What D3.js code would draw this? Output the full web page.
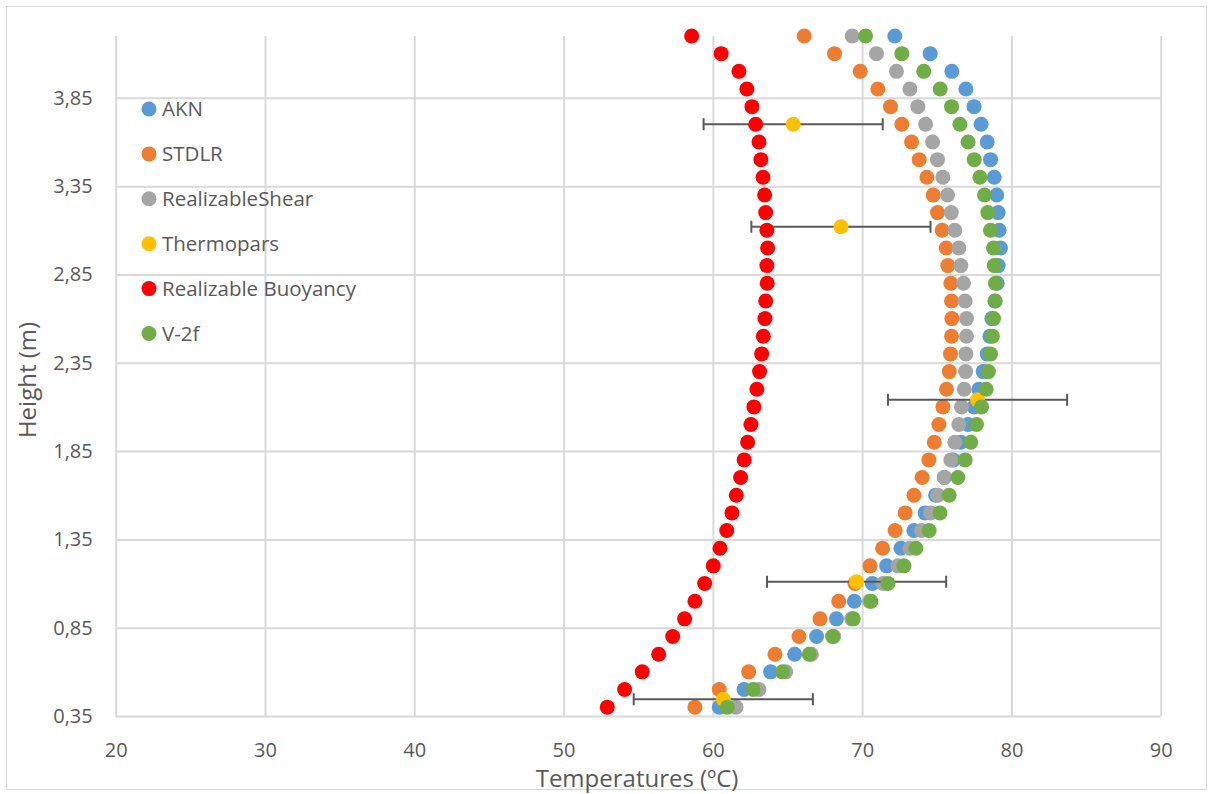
<!DOCTYPE html>
<html>
<head>
<meta charset="utf-8">
<script src="https://cdn.jsdelivr.net/npm/d3@7"></script>
<style>
  body { margin: 0; background: #fff; }
  text { font-family: "Open Sans", Lato, sans-serif; fill: #595959; }
</style>
</head>
<body>
<div class="canvas"></div>
<script>
const heights = [0.4, 0.5, 0.6, 0.7, 0.8, 0.9, 1.0, 1.1, 1.2, 1.3, 1.4, 1.5, 1.6, 1.7, 1.8, 1.9, 2.0, 2.1, 2.2, 2.3,
    2.4, 2.5, 2.6, 2.7, 2.8, 2.9, 3.0, 3.1, 3.2, 3.3, 3.4, 3.5, 3.6, 3.7, 3.8, 3.9, 4.0, 4.1, 4.2];

const akn = [60.43, 62.09, 63.87, 65.48, 66.95, 68.28, 69.48, 70.68, 71.64, 72.6, 73.47, 74.22, 74.92, 75.5, 76.1, 76.61,
    77.1, 77.5, 77.82, 78.11, 78.38, 78.56, 78.69, 78.9, 79.05, 79.11, 79.27, 79.18, 79.11, 79.02, 78.85, 78.6, 78.38,
    77.97, 77.5, 76.95, 76.01, 74.56, 72.19];

const stdlr = [58.8, 60.43, 62.4, 64.16, 65.77, 67.18, 68.43, 69.52, 70.53, 71.37, 72.21, 72.88, 73.47, 74.02, 74.47,
    74.83, 75.14, 75.41, 75.65, 75.84, 75.92, 75.99, 76.01, 75.99, 75.94, 75.74, 75.63, 75.36, 75.05, 74.76, 74.34,
    73.82, 73.31, 72.66, 71.9, 71.05, 69.87, 68.15, 66.12];

const realizableShear = [61.55, 63.09, 64.88, 66.6, 68.1, 69.3, 70.5, 71.4, 72.4, 73.2, 73.98, 74.58, 75.07, 75.52,
    75.94, 76.21, 76.48, 76.66, 76.84, 76.93, 76.95, 76.99, 76.99, 76.9, 76.79, 76.61, 76.48, 76.21, 75.97, 75.72, 75.41,
    75.05, 74.72, 74.25, 73.73, 73.2, 72.3, 70.96, 69.33];

const realizableBuoyancy = [52.93, 54.09, 55.27, 56.37, 57.31, 58.11, 58.8, 59.45, 60.03, 60.48, 60.93, 61.28, 61.57,
    61.86, 62.1, 62.33, 62.55, 62.75, 62.95, 63.13, 63.27, 63.38, 63.49, 63.54, 63.64, 63.62, 63.67, 63.62, 63.54, 63.47,
    63.36, 63.22, 63.09, 62.87, 62.62, 62.28, 61.75, 60.56, 58.58];

const v2f = [60.97, 62.71, 64.67, 66.46, 68.02, 69.41, 70.59, 71.73, 72.8, 73.6, 74.49, 75.21, 75.83, 76.41, 76.9, 77.28,
    77.66, 78.0, 78.31, 78.46, 78.6, 78.73, 78.8, 78.91, 78.93, 78.85, 78.8, 78.6, 78.42, 78.2, 77.89, 77.51, 77.1, 76.55,
    75.99, 75.23, 74.13, 72.66, 70.23];

const thermoHeights = [0.445, 1.11, 2.14, 3.12, 3.7];
const thermoTemps = [60.7, 69.63, 77.73, 68.58, 65.38];
const thermoError = 6;

const xTicks = [20, 30, 40, 50, 60, 70, 80, 90];
const yTicks = [0.35, 0.85, 1.35, 1.85, 2.35, 2.85, 3.35, 3.85];

const seriesNames = ['AKN', 'STDLR', 'RealizableShear', 'Thermopars', 'Realizable Buoyancy', 'V-2f'];
const seriesColors = ['#5b9bd5', '#ed7d31', '#a5a5a5', '#ffc000', '#ff0000', '#70ad47'];

const dims = {width: 1213, height: 794};
const plot = {left: 115.7, right: 1160.7, top: 36, bottom: 716};

const svg = d3.select('.canvas')
    .append('svg')
    .attr('width', dims.width)
    .attr('height', dims.height);

svg.append('rect')
    .attr('x', 6.5).attr('y', 6.5)
    .attr('width', 1200).attr('height', 783)
    .attr('fill', '#fff')
    .attr('stroke', '#d9d9d9');

const x = d3.scaleLinear().domain([20, 90]).range([plot.left, plot.right]);
const y = d3.scaleLinear().domain([0.35, 4.2]).range([plot.bottom, plot.top]);

const comma = d3.formatLocale({decimal: ',', thousands: '.', grouping: [3], currency: ['', '']}).format('.2f');

// gridlines
const xAxis = svg.append('g')
    .attr('transform', `translate(0, ${plot.bottom})`)
    .call(d3.axisBottom(x).tickValues(xTicks).tickSize(-(plot.bottom - plot.top)).tickPadding(27));

const yAxis = svg.append('g')
    .attr('transform', `translate(${plot.left}, 0)`)
    .call(d3.axisLeft(y).tickValues(yTicks).tickFormat(comma).tickSize(-(plot.right - plot.left)).tickPadding(23));

[xAxis, yAxis].forEach(ax => {
    ax.select('.domain').remove();
    ax.selectAll('line').attr('stroke', '#d9d9d9').attr('stroke-width', 2);
    ax.selectAll('text').attr('fill', '#595959').style('font-size', '20px');
});
xAxis.selectAll('text').attr('dy', '0.71em');

const rows = (vals, hs) => vals.map((v, i) => ({t: v, h: hs[i]}));

const drawDots = (data, color) => {
    svg.append('g')
        .selectAll('circle')
        .data(data)
        .enter()
        .append('circle')
        .attr('cx', d => x(d.t))
        .attr('cy', d => y(d.h))
        .attr('r', 7.5)
        .attr('fill', color);
};

drawDots(rows(akn, heights), seriesColors[0]);
drawDots(rows(stdlr, heights), seriesColors[1]);
drawDots(rows(realizableShear, heights), seriesColors[2]);

// thermopars with error bars
const thermo = rows(thermoTemps, thermoHeights);
const errBars = svg.append('g')
    .attr('stroke', '#595959')
    .attr('stroke-width', 2);

errBars.selectAll('.bar')
    .data(thermo)
    .enter()
    .append('path')
    .attr('fill', 'none')
    .attr('d', d => {
        const x0 = x(d.t - thermoError), x1 = x(d.t + thermoError), yy = y(d.h);
        return `M${x0},${yy}H${x1}M${x0},${yy - 6}V${yy + 6}M${x1},${yy - 6}V${yy + 6}`;
    });

drawDots(thermo, seriesColors[3]);
drawDots(rows(realizableBuoyancy, heights), seriesColors[4]);
drawDots(rows(v2f, heights), seriesColors[5]);

// legend
const legend = svg.append('g')
    .attr('transform', 'translate(149, 109)');

const items = legend.selectAll('g')
    .data(seriesNames)
    .enter()
    .append('g')
    .attr('transform', (d, i) => `translate(0, ${i * 44.9})`);

items.append('circle')
    .attr('r', 7.5)
    .attr('fill', (d, i) => seriesColors[i]);

items.append('text')
    .attr('x', 13)
    .attr('dy', '0.36em')
    .style('font-size', '20.5px')
    .text(d => d);

// axis titles
svg.append('text')
    .attr('x', 637)
    .attr('y', 787)
    .attr('text-anchor', 'middle')
    .style('font-size', '24px')
    .text('Temperatures (ºC)');

svg.append('text')
    .attr('transform', 'translate(36, 380) rotate(-90)')
    .attr('text-anchor', 'middle')
    .style('font-size', '24px')
    .text('Height (m)');
</script>
</body>
</html>
